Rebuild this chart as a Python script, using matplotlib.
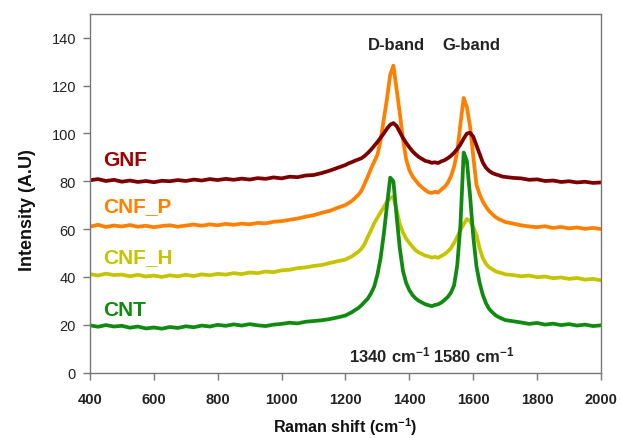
import matplotlib
matplotlib.use('Agg')
import matplotlib.pyplot as plt

plt.rcParams['font.family'] = ['Liberation Sans', 'DejaVu Sans']
plt.rcParams['mathtext.fontset'] = 'custom'
plt.rcParams['mathtext.rm'] = 'Liberation Sans:bold'
plt.rcParams['mathtext.bf'] = 'Liberation Sans:bold'

# Raman shift sampling points (cm-1)
shift = [400, 425, 450, 475, 500, 525, 550, 575, 600, 625, 650, 675, 700, 725, 750,
         775, 800, 825, 850, 875, 900, 925, 950, 975, 1000, 1025, 1050, 1075, 1100,
         1125, 1150, 1175, 1200,
         1210, 1220, 1230, 1240, 1250, 1260, 1270, 1280, 1290, 1300,
         1310, 1320, 1330, 1340, 1350, 1360, 1370, 1380, 1390, 1400,
         1410, 1420, 1430, 1440, 1450, 1460, 1470, 1480, 1490, 1500,
         1510, 1520, 1530, 1540, 1550, 1560, 1570, 1580, 1590, 1600,
         1610, 1620, 1630, 1640, 1650, 1660, 1670, 1680, 1690, 1700,
         1725, 1750, 1775, 1800, 1825, 1850, 1875, 1900, 1925, 1950, 1975, 2000]

gnf = [80.4, 80.9, 80.1, 80.6, 79.8, 80.3, 79.7, 80.1, 79.6, 80.2, 80.0, 80.5, 80.1, 80.7, 80.3,
       80.9, 80.5, 81.0, 80.6, 81.1, 80.7, 81.3, 81.0, 81.6, 81.2, 81.9, 81.7, 82.4, 82.6,
       83.4, 84.4, 85.6, 86.8,
       87.5, 88.0, 88.6, 89.1, 89.6, 90.6, 91.8, 93.2, 94.8, 96.4,
       98.2, 100.0, 102.0, 103.6, 104.3, 103.1, 100.6, 98.1, 96.0, 94.2,
       92.5, 91.2, 90.1, 89.3, 88.5, 88.2, 87.7, 87.9, 87.6, 88.3,
       88.8, 89.6, 90.6, 91.9, 93.5, 95.4, 97.8, 99.9, 100.3, 98.6,
       95.0, 91.4, 87.8, 85.6, 84.3, 83.4, 82.9, 82.5, 82.0, 81.8,
       81.4, 81.2, 80.6, 80.8, 80.1, 80.3, 79.7, 80.0, 79.5, 79.8, 79.3, 79.5]

cnf_p = [61.0, 61.8, 60.9, 61.5, 61.1, 61.7, 61.0, 61.4, 60.8, 61.3, 61.6, 61.0, 61.5, 61.9, 61.4,
         62.0, 61.6, 62.2, 61.8, 62.3, 62.0, 62.6, 62.4, 63.1, 63.3, 63.9, 64.4, 65.2, 65.8,
         66.8, 67.6, 68.9, 70.1,
         70.9, 71.8, 73.0, 74.3, 76.0, 79.0, 82.0, 85.3, 88.2, 91.0,
         97.0, 106.0, 114.5, 124.5, 128.3, 118.5, 108.5, 97.5, 89.2, 84.6,
         82.0, 80.3, 78.6, 77.4, 76.3, 75.4, 75.1, 75.6, 75.3, 76.5,
         77.6, 79.3, 82.0, 86.0, 92.5, 104.0, 114.8, 111.0, 103.0, 90.5,
         78.5, 74.5, 71.5, 69.3, 67.5, 66.2, 65.0, 64.2, 63.6, 63.0,
         62.3, 61.6, 61.1, 60.8, 61.2, 60.5, 60.9, 60.3, 60.7, 60.1, 60.5, 60.0]

cnf_h = [41.2, 40.6, 41.4, 40.8, 41.0, 40.3, 40.9, 40.2, 40.6, 40.0, 40.7, 40.3, 40.9, 40.4, 41.1,
         40.7, 41.3, 41.0, 41.6, 41.2, 41.9, 41.6, 42.3, 42.0, 42.8, 43.0, 43.7, 44.0, 44.6,
         45.0, 45.8, 46.6, 47.3,
         48.0, 48.6, 49.6, 50.5, 51.8, 53.8, 56.8, 59.5, 62.5, 64.8,
         67.0, 69.2, 71.5, 73.0, 73.6, 68.0, 62.0, 58.6, 56.0, 54.2,
         52.6, 51.1, 50.2, 49.6, 48.9, 48.6, 48.1, 48.4, 48.0, 48.8,
         49.5, 50.6, 52.0, 54.2, 56.8, 59.6, 62.0, 64.2, 63.4, 60.8,
         57.6, 52.0, 47.8, 45.5, 44.0, 43.2, 42.4, 41.9, 41.6, 41.1,
         40.8, 40.3, 40.6, 39.9, 40.2, 39.5, 39.8, 39.2, 39.6, 38.9, 39.2, 38.6]

cnt = [19.8, 19.2, 19.9, 19.3, 19.6, 18.8, 19.3, 18.5, 18.9, 18.4, 19.1, 18.7, 19.4, 19.0, 19.7,
       19.3, 20.0, 19.6, 20.2, 19.7, 20.3, 19.8, 19.5, 20.1, 20.4, 20.9, 20.6, 21.3, 21.6,
       21.9, 22.4, 23.1, 23.9,
       24.6, 25.3, 26.2, 27.0, 28.2, 29.6, 31.0, 33.2, 36.0, 41.0,
       48.0, 58.0, 70.0, 81.5, 80.0, 65.5, 52.0, 42.5, 37.5, 34.5,
       32.4, 31.0, 30.0, 29.3, 28.6, 28.2, 27.8, 28.3, 28.6, 29.3,
       30.4, 31.6, 33.4, 36.5, 45.0, 62.0, 92.0, 88.5, 74.0, 57.0,
       44.5, 37.5, 32.5, 29.0, 26.6, 25.2, 24.0, 23.2, 22.6, 22.0,
       21.5, 21.0, 20.4, 20.8, 20.1, 20.5, 19.9, 20.3, 19.7, 20.1, 19.5, 19.8]

names = ['GNF', 'CNF_P', 'CNF_H', 'CNT']
line_colors = ['#7d0000', '#ff8000', '#c4c400', '#118a11']
text_colors = ['#a00000', '#ff8000', '#c4c400', '#118a11']
label_y = [89, 70, 48.6, 26.5]

fig = plt.figure(figsize=(6.21, 4.39), dpi=100)
ax = fig.add_axes([0.1449, 0.1487, 0.8229, 0.8178])

# draw order: yellow, green, orange, dark red on top
ax.plot(shift, cnf_h, color=line_colors[2], lw=2.7)
ax.plot(shift, cnt, color=line_colors[3], lw=2.7)
ax.plot(shift, cnf_p, color=line_colors[1], lw=2.7)
ax.plot(shift, gnf, color=line_colors[0], lw=2.7)

for name, c, y in zip(names, text_colors, label_y):
    ax.text(440, y, name, color=c, fontsize=15, fontweight='bold', va='center', ha='left')

ax.text(1361, 137, 'D-band', fontsize=12, fontweight='bold', color='#222222', ha='center', va='center')
ax.text(1594, 137, 'G-band', fontsize=12, fontweight='bold', color='#222222', ha='center', va='center')
ax.text(1340, 7.5, r'$\mathbf{1340\ cm^{-1}}$', fontsize=12, color='#222222', ha='center', va='center')
ax.text(1603, 7.5, r'$\mathbf{1580\ cm^{-1}}$', fontsize=12, color='#222222', ha='center', va='center')

ax.set_xlim(400, 2000)
ax.set_ylim(0, 150)
ax.set_xticks(range(400, 2001, 200))
ax.set_yticks(range(0, 141, 20))

for s in ax.spines.values():
    s.set_color('#777777')
    s.set_linewidth(1.0)

ax.tick_params(axis='y', direction='out', length=5, width=1, color='#777777',
               labelsize=10.5, labelcolor='#222222', pad=5)
ax.tick_params(axis='x', direction='out', length=5, width=1, color='#777777',
               labelsize=10.5, labelcolor='#222222', pad=9)
for lab in ax.get_xticklabels():
    lab.set_fontweight('bold')

ax.set_xlabel(r'Raman shift (cm$^{-1}$)', fontsize=11.5, fontweight='bold', color='#111111')
ax.xaxis.set_label_coords(0.5, -0.118)
ax.set_ylabel('Intensity (A.U)', fontsize=13, fontweight='bold', color='#111111')
ax.yaxis.set_label_coords(-0.105, 0.457)

fig.savefig('out.png', dpi=100)
